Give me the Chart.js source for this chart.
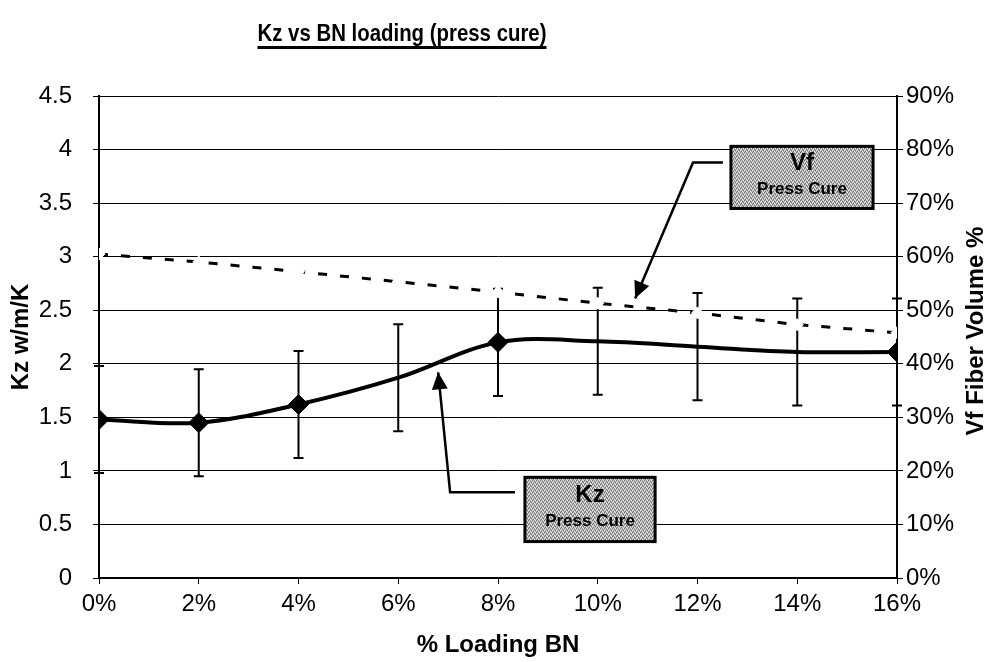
<!DOCTYPE html>
<html>
<head>
<meta charset="utf-8">
<script src="https://cdn.jsdelivr.net/npm/chart.js@4.4.1/dist/chart.umd.min.js"></script>
<style>
  html, body { margin: 0; padding: 0; background: #fff; }
  #wrap { width: 996px; height: 662px; }
</style>
</head>
<body>
<div id="wrap"><canvas id="grafico"></canvas></div>
<script>
// dados
const loadingBN = [0, 2, 4, 6, 8, 10, 12, 14, 16];
const kzValores = [1.48, 1.45, 1.62, 1.87, 2.20, 2.21, 2.16, 2.11, 2.11];
const kzErro = [0.5, 0.5, 0.5, 0.5, 0.5, 0.5, 0.5, 0.5, 0.5];
const kzMarcador = [true, true, true, false, true, false, false, false, true];
const vfValores = [60.5, 59.0, 57.2, 55.3, 53.4, 51.3, 49.5, 47.3, 45.8];
const kzTicks = [0, 0.5, 1, 1.5, 2, 2.5, 3, 3.5, 4, 4.5];

// caixas de anotação (em coordenadas dos eixos x / y)
const notaVf = { titulo: 'Vf', sub: 'Press Cure', x0: 12.67, x1: 15.52, y0: 4.03, y1: 3.45,
                 seta: [[12.51, 3.88], [11.91, 3.88], [10.75, 2.61]] };
const notaKz = { titulo: 'Kz', sub: 'Press Cure', x0: 8.54, x1: 11.15, y0: 0.94, y1: 0.34,
                 seta: [[8.34, 0.80], [7.04, 0.80], [6.80, 1.92]] };

const fonte = "'Liberation Sans', Arial, sans-serif";

// textura pontilhada das caixas
function criaTextura(ctx) {
    const c = document.createElement('canvas');
    c.width = 4; c.height = 4;
    const g = c.getContext('2d');
    g.fillStyle = '#b4b4b4';
    g.fillRect(0, 0, 4, 4);
    g.fillStyle = '#6e6e6e';
    g.fillRect(0, 0, 1, 1); g.fillRect(2, 1, 1, 1); g.fillRect(1, 3, 1, 1); g.fillRect(3, 2, 1, 1);
    g.fillStyle = '#e6e6e6';
    g.fillRect(1, 1, 1, 1); g.fillRect(3, 0, 1, 1); g.fillRect(0, 2, 1, 1); g.fillRect(2, 3, 1, 1);
    return ctx.createPattern(c, 'repeat');
}

const barrasErro = {
    id: 'barrasErro',
    beforeDatasetsDraw(chart) {
        const ctx = chart.ctx;
        const x = chart.scales.x, y = chart.scales.y;
        ctx.save();
        ctx.strokeStyle = '#000';
        ctx.lineWidth = 2;
        loadingBN.forEach((v, i) => {
            const px = x.getPixelForValue(v);
            const top = y.getPixelForValue(kzValores[i] + kzErro[i]);
            const bot = y.getPixelForValue(kzValores[i] - kzErro[i]);
            ctx.beginPath();
            ctx.moveTo(px, top); ctx.lineTo(px, bot);
            ctx.moveTo(px - 5, top); ctx.lineTo(px + 5, top);
            ctx.moveTo(px - 5, bot); ctx.lineTo(px + 5, bot);
            ctx.stroke();
        });
        ctx.restore();
    }
};

function desenhaNota(chart, nota, textura) {
    const ctx = chart.ctx;
    const x = chart.scales.x, y = chart.scales.y;
    const pts = nota.seta.map(p => [x.getPixelForValue(p[0]), y.getPixelForValue(p[1])]);
    ctx.save();
    ctx.strokeStyle = '#000';
    ctx.lineWidth = 2.5;
    ctx.beginPath();
    ctx.moveTo(pts[0][0], pts[0][1]);
    for (let i = 1; i < pts.length; i++) ctx.lineTo(pts[i][0], pts[i][1]);
    ctx.stroke();
    // ponta da seta
    const a = pts[pts.length - 2], b = pts[pts.length - 1];
    const ang = Math.atan2(b[1] - a[1], b[0] - a[0]);
    ctx.fillStyle = '#000';
    ctx.beginPath();
    ctx.moveTo(b[0], b[1]);
    ctx.lineTo(b[0] - 17 * Math.cos(ang) + 8 * Math.sin(ang), b[1] - 17 * Math.sin(ang) - 8 * Math.cos(ang));
    ctx.lineTo(b[0] - 17 * Math.cos(ang) - 8 * Math.sin(ang), b[1] - 17 * Math.sin(ang) + 8 * Math.cos(ang));
    ctx.closePath();
    ctx.fill();

    const bx0 = x.getPixelForValue(nota.x0), bx1 = x.getPixelForValue(nota.x1);
    const by0 = y.getPixelForValue(nota.y0), by1 = y.getPixelForValue(nota.y1);
    ctx.fillStyle = textura;
    ctx.fillRect(bx0, by0, bx1 - bx0, by1 - by0);
    ctx.lineWidth = 3;
    ctx.strokeRect(bx0, by0, bx1 - bx0, by1 - by0);
    ctx.fillStyle = '#000';
    ctx.textAlign = 'center';
    ctx.textBaseline = 'middle';
    const cx = (bx0 + bx1) / 2, h = by1 - by0;
    ctx.font = 'bold 24px ' + fonte;
    ctx.fillText(nota.titulo, cx, by0 + h * 0.28);
    ctx.font = 'bold 17px ' + fonte;
    ctx.fillText(nota.sub, cx, by0 + h * 0.69);
    ctx.restore();
}

const extras = {
    id: 'extras',
    afterDraw(chart) {
        const ctx = chart.ctx;
        if (!chart.$textura) chart.$textura = criaTextura(ctx);
        desenhaNota(chart, notaVf, chart.$textura);
        desenhaNota(chart, notaKz, chart.$textura);

        // título sublinhado (letra um pouco estreita como no original)
        ctx.save();
        ctx.fillStyle = '#000';
        ctx.font = 'bold 24px ' + fonte;
        ctx.textBaseline = 'alphabetic';
        const t = 'Kz vs BN loading (press cure)';
        const w = ctx.measureText(t).width;
        const larg = 289;
        ctx.save();
        ctx.translate(402 - larg / 2, 41);
        ctx.scale(larg / w, 1);
        ctx.fillText(t, 0, 0);
        ctx.restore();
        ctx.fillRect(402 - larg / 2, 46, larg, 3);

        // título do eixo direito (lido de baixo para cima)
        ctx.translate(976, 331);
        ctx.rotate(-Math.PI / 2);
        ctx.textAlign = 'center';
        ctx.textBaseline = 'middle';
        ctx.font = 'bold 24px ' + fonte;
        ctx.fillText('Vf Fiber Volume %', 0, 0);
        ctx.restore();
    }
};

const ctxGrafico = document.getElementById('grafico').getContext('2d');
const grafico = new Chart(ctxGrafico, {
    type: 'line',
    data: {
        datasets: [
            {
                label: 'Kz',
                data: loadingBN.map((v, i) => ({ x: v, y: kzValores[i] })),
                yAxisID: 'y',
                borderColor: '#000',
                backgroundColor: '#000',
                borderWidth: 4,
                tension: 0.35,
                pointStyle: 'rectRot',
                pointRadius: kzMarcador.map(m => m ? 10 : 0),
                pointBorderWidth: 1,
                pointHoverRadius: 0,
            },
            {
                label: 'Vf',
                data: loadingBN.map((v, i) => ({ x: v, y: vfValores[i] })),
                yAxisID: 'y1',
                borderColor: '#000',
                borderWidth: 3,
                borderDash: [9, 13],
                pointStyle: 'rectRot',
                pointRadius: 6,
                pointBackgroundColor: '#fff',
                pointBorderColor: '#fff',
                pointBorderWidth: 1,
            }
        ]
    },
    options: {
        responsive: true,
        maintainAspectRatio: false,
        animation: false,
        events: [],
        layout: { padding: { top: 96, left: 0, right: 0, bottom: 0 } },
        plugins: {
            legend: { display: false },
            tooltip: { enabled: false },
            title: { display: false },
        },
        scales: {
            x: {
                type: 'linear',
                min: 0,
                max: 16,
                afterFit: s => { s.height = 84; },
                afterBuildTicks: s => { s.ticks = loadingBN.map(v => ({ value: v })); },
                grid: { drawOnChartArea: false, color: '#000', tickLength: 6 },
                border: { color: '#000', width: 1.5 },
                ticks: {
                    color: '#000',
                    font: { family: fonte, size: 24 },
                    padding: 6,
                    maxRotation: 0,
                    callback: v => v + '%',
                },
                title: {
                    display: true,
                    text: '% Loading BN',
                    color: '#000',
                    font: { family: fonte, size: 24, weight: 'bold' },
                    padding: { top: 0, bottom: 2 },
                },
            },
            y: {
                position: 'left',
                min: 0,
                max: 4.5,
                afterFit: s => { s.width = 99; },
                afterBuildTicks: s => { s.ticks = kzTicks.map(v => ({ value: v })); },
                grid: { color: '#000', lineWidth: 1, tickLength: 6 },
                border: { color: '#000', width: 2 },
                ticks: {
                    color: '#000',
                    font: { family: fonte, size: 24 },
                    padding: 21,
                    callback: v => String(v),
                },
                title: {
                    display: true,
                    text: 'Kz w/m/K',
                    color: '#000',
                    font: { family: fonte, size: 24, weight: 'bold' },
                    padding: { top: 7, bottom: 0 },
                },
            },
            y1: {
                position: 'right',
                min: 0,
                max: 90,
                afterFit: s => { s.width = 99; },
                grid: { drawOnChartArea: false, color: '#000', tickLength: 6 },
                border: { color: '#000', width: 2 },
                ticks: {
                    stepSize: 10,
                    color: '#000',
                    font: { family: fonte, size: 24 },
                    padding: 3,
                    callback: v => v + '%',
                },
            },
        },
    },
    plugins: [barrasErro, extras],
});
</script>
</body>
</html>
